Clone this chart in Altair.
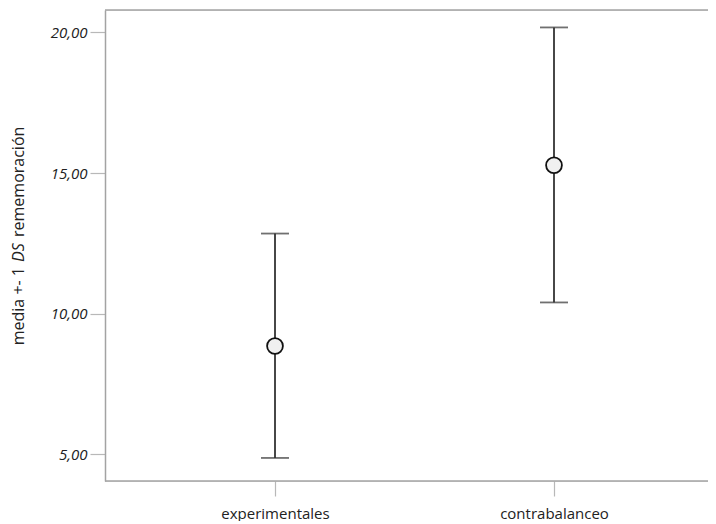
import altair as alt
import pandas as pd

groups = ["experimentales", "contrabalanceo"]
means = [8.85, 15.28]
upper = [12.85, 20.18]
lower = [4.87, 10.40]
y_ticks = [5, 10, 15, 20]

df = pd.DataFrame({"grupo": groups, "media": means, "sup": upper, "inf": lower})

W, H = 603, 471
FONT = "Open Sans"
AX = "#a3a3a3"
TK = "#b8b8b8"
INK = "#333333"
TXT = "#222222"

xenc = alt.X(
    "grupo:N",
    sort=groups,
    scale=alt.Scale(type="point", range=[170, 449], padding=0),
    axis=alt.Axis(
        title=None, labelAngle=0, domain=False,
        tickColor=TK, tickSize=15, tickWidth=1.2, labelFont=FONT,
        labelFontSize=15, labelColor=TXT, labelPadding=10,
    ),
)
yscale = alt.Scale(domain=[4.05, 20.8], nice=False, zero=False)
yenc = alt.Y(
    "media:Q",
    scale=yscale,
    axis=alt.Axis(
        title=None, values=y_ticks, domainColor=AX, domainWidth=1.5,
        tickColor=TK, tickSize=15, tickWidth=1.2, labelFont=FONT,
        labelFontSize=15, labelFontStyle="italic", labelColor=TXT,
        labelPadding=3, grid=False,
        labelExpr="replace(format(datum.value, '.2f'), '.', ',')",
    ),
)

base = alt.Chart(df)

rule = base.mark_rule(color=INK, strokeWidth=1.8).encode(
    x=xenc, y=alt.Y("inf:Q", scale=yscale), y2="sup:Q"
)
cap_hi = base.mark_tick(color=INK, size=28, thickness=1.8).encode(
    x=xenc, y=alt.Y("sup:Q", scale=yscale)
)
cap_lo = base.mark_tick(color=INK, size=28, thickness=1.8).encode(
    x=xenc, y=alt.Y("inf:Q", scale=yscale)
)
pts = base.mark_point(
    shape="circle", size=250, filled=True, fill="#f0f0f0",
    stroke="#111111", strokeWidth=1.8, opacity=1,
).encode(x=xenc, y=yenc)

frame_df = pd.DataFrame({"a": [0]})
top_border = alt.Chart(frame_df).mark_rule(color=AX, strokeWidth=1.5).encode(
    y=alt.value(0), x=alt.value(0), x2=alt.value(W)
)
bottom_border = alt.Chart(frame_df).mark_rule(color=AX, strokeWidth=1.5).encode(
    y=alt.value(H), x=alt.value(0), x2=alt.value(W)
)

title_df = pd.DataFrame({"t": [0]})
TX = -86
t1 = alt.Chart(title_df).mark_text(
    text="media +- 1", angle=270, align="right", baseline="middle",
    font=FONT, fontSize=16, color=TXT,
).encode(x=alt.value(TX), y=alt.value(257))
t2 = alt.Chart(title_df).mark_text(
    text="DS", angle=270, align="left", baseline="middle",
    font=FONT, fontSize=16, fontStyle="italic", color=TXT,
).encode(x=alt.value(TX), y=alt.value(252))
t3 = alt.Chart(title_df).mark_text(
    text="rememoración", angle=270, align="left", baseline="middle",
    font=FONT, fontSize=16, color=TXT,
).encode(x=alt.value(TX), y=alt.value(227))

chart = (
    alt.layer(top_border, bottom_border, rule, cap_hi, cap_lo, pts, t1, t2, t3)
    .properties(
        width=W, height=H,
        autosize=alt.AutoSizeParams(type="none"),
        padding={"left": 97, "top": 2, "right": 0, "bottom": 40},
    )
    .configure_view(fill="#f0f0f0", stroke=None)
    .configure(background="white")
)

chart.save("out.html", embed_options={"renderer": "svg", "actions": False})
